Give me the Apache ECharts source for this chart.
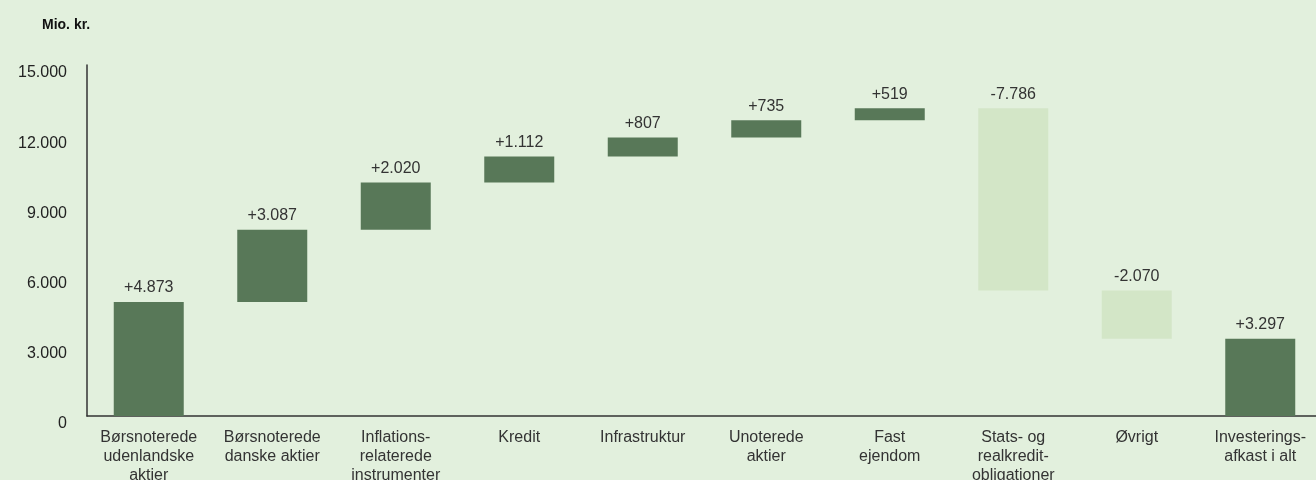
<!DOCTYPE html>
<html><head><meta charset="utf-8">
<script src="https://cdn.jsdelivr.net/npm/echarts@6/dist/echarts.min.js"></script>
<style>html,body{margin:0;padding:0;background:#e2f0dd;overflow:hidden;}#c{width:1316px;height:480px;}</style>
</head><body><div id="c"></div>
<script>
const categories = ["Børsnoterede\nudenlandske\naktier","Børsnoterede\ndanske aktier","Inflations-\nrelaterede\ninstrumenter","Kredit","Infrastruktur","Unoterede\naktier","Fast\nejendom","Stats- og\nrealkredit-\nobligationer","Øvrigt","Investerings-\nafkast i alt"];
const deltas = [4873, 3087, 2020, 1112, 807, 735, 519, -7786, -2070, 3297];
const isTotal = [false, false, false, false, false, false, false, false, false, true];
const yTicks = [0, 3000, 6000, 9000, 12000, 15000];

function fmt(n){ return Math.abs(n).toString().replace(/\B(?=(\d{3})+(?!\d))/g, '.'); }
function sign(n){ return (n >= 0 ? '+' : '-') + fmt(n); }

const base = [], vis = [];
let run = 0;
deltas.forEach((d, i) => {
  if (isTotal[i]) { base.push(0); vis.push({value: d, itemStyle:{color:'#587858'}}); run = d; return; }
  if (d >= 0) { base.push(run); vis.push({value: d, itemStyle:{color:'#587858'}}); run += d; }
  else { run += d; base.push(run); vis.push({value: -d, itemStyle:{color:'#d3e6c7'}}); }
});

const chart = echarts.init(document.getElementById('c'));
chart.setOption({
  backgroundColor: '#e2f0dd',
  animation: false,
  textStyle: { fontFamily: 'Liberation Sans, Arial, sans-serif' },
  title: { text: 'Mio. kr.', left: 37, top: 13, textStyle: { fontSize: 14, fontWeight: 'bold', color: '#111' } },
  grid: { left: 87, top: 65, width: 1235, height: 351, containLabel: false, outerBoundsMode: 'none' },
  xAxis: {
    type: 'category', data: categories,
    axisLine: { show: true, lineStyle: { color: '#333', width: 1.5 } },
    axisTick: { show: false },
    axisLabel: { color: '#333', fontSize: 16, lineHeight: 19, margin: 12, interval: 0 }
  },
  yAxis: {
    type: 'value', min: yTicks[0], max: yTicks[yTicks.length-1], interval: 3000,
    axisLine: { show: true, lineStyle: { color: '#333', width: 1.5 } },
    axisTick: { show: false },
    splitLine: { show: false },
    axisLabel: { color: '#222', fontSize: 16, margin: 20, verticalAlign: 'top', formatter: v => fmt(v) }
  },
  series: [
    { type: 'bar', stack: 'w', data: base, itemStyle: { color: 'transparent' }, barWidth: 70, silent: true },
    { type: 'bar', stack: 'w', data: vis, barWidth: 70,
      label: { show: true, position: 'top', distance: 6, color: '#333', fontSize: 16,
        formatter: p => sign(deltas[p.dataIndex]) } }
  ]
});
</script></body></html>
